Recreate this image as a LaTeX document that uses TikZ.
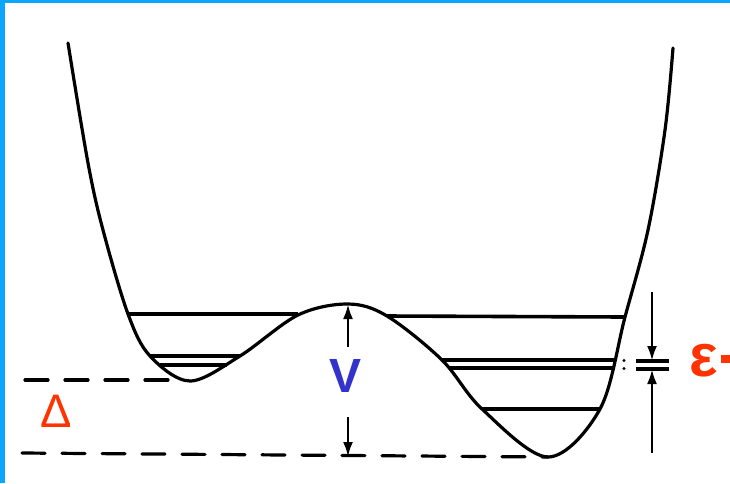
\documentclass[tikz,border=0pt]{standalone}
\usepackage{fontspec}
\setmainfont{Liberation Sans}
\usetikzlibrary{arrows.meta}
\definecolor{frameblue}{RGB}{12,166,255}
\definecolor{lblred}{RGB}{255,51,0}
\definecolor{lblblue}{RGB}{51,51,204}
\tikzset{
  pot/.style={line width=3.2pt, line join=round, line cap=round},
  level/.style={line width=3.6pt},
  dashline/.style={line width=3.2pt, dash pattern=on 23pt off 17pt, line cap=round},
  dimarrow/.style={line width=2.8pt, -{Latex[length=15pt,width=10pt]}},
  tick/.style={line width=3.2pt},
  lbl/.style={inner sep=0pt, anchor=center}
}
\begin{document}
\begin{tikzpicture}[x=1pt,y=-1pt]
\useasboundingbox (0,0) rectangle (730,483);
% frame
\fill[frameblue] (0,0) rectangle (730,2.5);
\fill[frameblue] (0,0) rectangle (5,483);
% potential curve
\draw[pot] plot[smooth, tension=0.55] coordinates {
 (68,43) (88,163) (103,230) (128,314) (150,356) (190,381) (240,356)
 (298,315) (348,304) (387,316) (442,360) (482,409) (548,457)
 (600,409) (625,317) (648,230) (665,130) (673,48)};
% energy levels
\draw[level] (128,314) -- (298,314);
\draw[level] (387,316) -- (625,317);
\draw[level] (150,356) -- (240,356);
\draw[level] (160,365) -- (227,365);
\draw[level] (442,360) -- (615,360);
\draw[level] (450,368) -- (613,368);
\draw[level] (482,409) -- (600,409);
% dashed reference lines
\draw[dashline] (25,380) -- (178,380);
\draw[dashline] (22,453) -- (548,457);
% V arrows
\coordinate (vtop) at (348,304);
\coordinate (vbot) at (348,457);
\draw[dimarrow] (348,347) -- (vtop);
\draw[dimarrow] (348,417) -- (vbot);
% epsilon marks
\draw[tick] (636,361) -- (669,361);
\draw[tick] (636,369) -- (669,369);
\fill (624,360.5) circle (1.6pt);
\fill (624,368.5) circle (1.6pt);
\coordinate (etop) at (652,361);
\coordinate (ebot) at (652,369);
\draw[dimarrow] (652,292) -- (etop);
\draw[dimarrow] (652,453) -- (ebot);
% labels
\node[lbl, text=lblred, font=\fontsize{47}{50}\selectfont] (delta) at (56,411) {Δ};
\node[lbl, text=lblblue, font=\bfseries\fontsize{48}{50}\selectfont] (vlab) at (346,376) {V};
\node[lbl, text=lblred, font=\bfseries\fontsize{60}{62}\selectfont] (eps) at (704,361) {ε};
\fill[lblred] (721,355) rectangle (730,363);
\end{tikzpicture}
\end{document}
